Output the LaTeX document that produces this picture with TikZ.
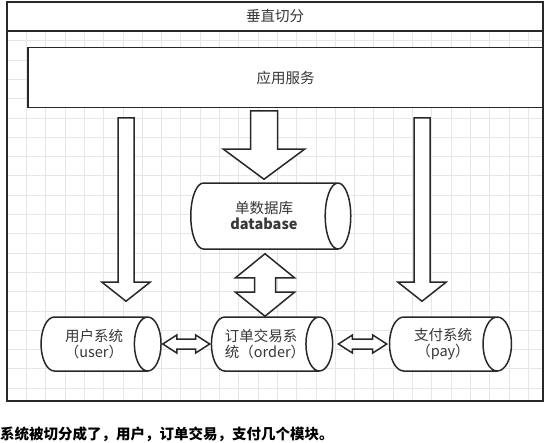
\documentclass[tikz,border=0pt]{standalone}
\usepackage{fontspec}
\setmainfont{Noto Sans CJK SC}
\usepackage{xcolor}
\usetikzlibrary{shapes.geometric, calc}
\definecolor{sketchline}{RGB}{40,40,40}
\definecolor{sketchtext}{RGB}{55,55,55}
\definecolor{sketchgrid}{RGB}{230,230,230}

\begin{document}
\begin{tikzpicture}[
  x=1pt, y=-1pt,
  box/.style={
    rectangle, draw=sketchline, line width=1.7pt,
    inner sep=0pt, text=sketchtext,
    font=\fontsize{14.5}{16}\selectfont
  },
  store/.style={
    cylinder, aspect=0.9, draw=sketchline, line width=1.5pt,
    fill=white, inner sep=0pt, text=sketchtext,
    minimum height=120pt, minimum width=54pt,
    font=\fontsize{14.5}{16}\selectfont
  },
  fatarrow/.style={draw=sketchline, line width=1.5pt, fill=white},
  downblock/.style n args={3}{to path={
    let \p1=(\tikztostart), \p2=(\tikztotarget) in
    (\x1-#1pt,\y1) -- (\x1-#1pt,\y2+#3pt) -- (\x1-#2pt,\y2+#3pt) -- (\x1,\y2)
    -- (\x1+#2pt,\y2+#3pt) -- (\x1+#1pt,\y2+#3pt) -- (\x1+#1pt,\y1) -- cycle}},
  updownblock/.style n args={3}{to path={
    let \p1=(\tikztostart), \p2=(\tikztotarget) in
    (\x1,\y1) -- (\x1+#2pt,\y1-#3pt) -- (\x1+#1pt,\y1-#3pt) -- (\x1+#1pt,\y2+#3pt)
    -- (\x1+#2pt,\y2+#3pt) -- (\x1,\y2) -- (\x1-#2pt,\y2+#3pt) -- (\x1-#1pt,\y2+#3pt)
    -- (\x1-#1pt,\y1-#3pt) -- (\x1-#2pt,\y1-#3pt) -- cycle}},
  sideblock/.style n args={3}{to path={
    let \p1=(\tikztostart), \p2=(\tikztotarget) in
    (\x1,\y1) -- (\x1+#3pt,\y1+#2pt) -- (\x1+#3pt,\y1+#1pt) -- (\x2-#3pt,\y1+#1pt)
    -- (\x2-#3pt,\y1+#2pt) -- (\x2,\y1) -- (\x2-#3pt,\y1-#2pt) -- (\x2-#3pt,\y1-#1pt)
    -- (\x1+#3pt,\y1-#1pt) -- (\x1+#3pt,\y1-#2pt) -- cycle}}
]

% page and grid
\fill[white] (0,0) rectangle (549,442);
\useasboundingbox (0,0) rectangle (549,442);
\draw[sketchgrid, line width=0.6pt, step=19.3pt, shift={(7,2)}] (0,0) grid (536,399);

\node[box, minimum width=536pt, minimum height=399pt] (frame) at (275,201.5) {};
\node[box, fill=white, minimum width=536pt, minimum height=29pt] (title) at (275,16.5) {垂直切分};
\node[box, fill=white, minimum width=515pt, minimum height=60pt] (app) at (285.5,77.5) {应用服务};

\node[store, minimum height=160pt, minimum width=66pt, align=center] (db) at (264,216)
  {单数据库\\\textbf{database}};
\node[store, align=center] (user) at (94,344) {用户系统\\（user）};
\node[store, align=left] (order) at (265,344) {订单交易系\\统（order）};
\node[store, minimum height=122pt, align=center] (pay) at (443,344) {支付系统\\（pay）};

\coordinate (userin) at ([xshift=32pt]user.north);
\coordinate (payin) at ([xshift=-21pt]pay.north);

\draw[fatarrow, downblock={8}{24}{19}] ([yshift=-9.5pt]app.south -| userin) to ([yshift=15pt]userin);
\draw[fatarrow, downblock={8}{24}{19}] ([yshift=-9.5pt]app.south -| payin) to ([yshift=15pt]payin);
\draw[fatarrow, downblock={13.5}{40.5}{30}] ([yshift=-2.5pt]app.south -| db) to ([yshift=3pt]db.north);
\draw[fatarrow, updownblock={10.5}{29.5}{24}] ([yshift=-4pt]db.south -| order) to (order.north);
\draw[fatarrow, sideblock={5}{9}{14}] ([xshift=1pt]user.east) to ([xshift=-1pt]order.west);
\draw[fatarrow, sideblock={5}{9}{14}] ([xshift=5pt]order.east) to ([xshift=-2pt]pay.west);

\node[anchor=west, inner sep=0pt, font=\fontsize{14.5}{16}\selectfont\bfseries] (note) at (0,434)
  {系统被切分成了，用户，订单交易，支付几个模块。};

\end{tikzpicture}
\end{document}
